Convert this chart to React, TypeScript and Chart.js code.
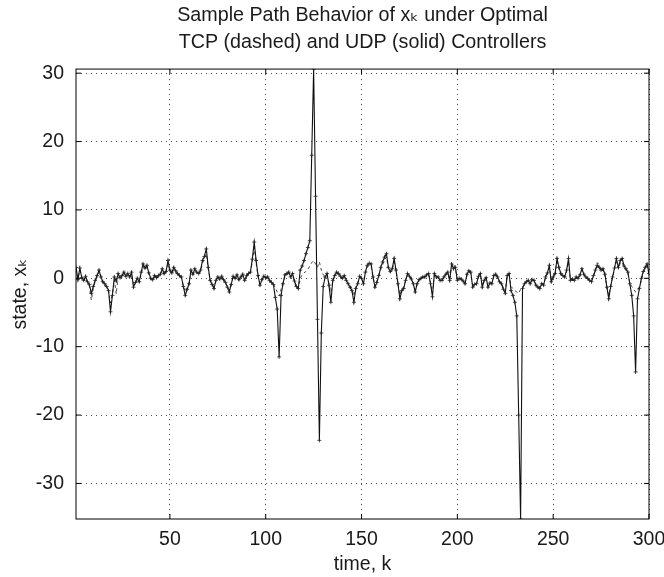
import { useEffect, useRef } from "react";
import { Chart, registerables } from "chart.js";

Chart.register(...registerables);

// UDP controller (solid line) — state x_k for k = 1..300
const udpValues = [
  1.6, -0.2, 1.5, 0.1, -0.3, 0.3, -0.5, -0.9, -2.2, -1.2,
  -0.3, 0.4, 1.2, 0.2, -0.5, -0.8, -1.2, -1.8, -4.9, -2.5,
  0.2, -0.4, 0.7, 0.1, 0.4, 0.9, 0.3, 0.7, 0.2, 0.9,
  -1.3, -0.6, 0.0, -0.5, 0.9, 2.1, 1.5, 1.9, 0.8, 0.0,
  -0.2, 0.4, 0.1, 0.4, 0.6, 1.4, 0.7, 1.0, 2.6, 1.2,
  0.8, 1.6, 1.1, 0.7, 0.4, 0.2, -1.2, -2.5, -1.6, -0.8,
  1.2, 0.6, 1.4, 0.9, 0.7, 1.2, 2.6, 3.2, 4.3, 1.6,
  -0.3, -0.9, -1.5, -0.3, 0.2, -0.1, 0.3, -0.2, -0.6, -1.3,
  -2.0, -0.9, 0.3, 0.0, 0.5, -0.2, 0.2, 0.6, -0.3, 0.4,
  0.7, 0.9, 2.8, 5.3, 2.6, 0.4, -1.0, -0.2, 0.3, 0.1,
  0.2, -0.3, -0.6, -0.9, -2.8, -4.5, -11.5, -2.5, -0.8, 0.5,
  0.7, 0.9, 0.2, 0.7, -0.4, -1.2, -1.5, 1.2, 1.8, 2.6,
  3.6, 4.5, 5.5, 18.0, 30.6, 12.0, -6.0, -23.7, -8.0, -1.2,
  0.2, 0.7, -1.0, -3.5, -0.3, 0.4, 0.9, 0.7, 0.3, 0.0,
  0.4, -0.3, -0.8, -1.3, -1.8, -3.5, -1.5, -0.8, 0.3, 0.0,
  -0.8, 0.9, 1.9, 2.2, 2.1, 0.2, -1.3, -0.6, 0.4, 1.6,
  2.4, 3.1, 3.6, 1.6, 1.0, 1.4, 2.9, 1.2, -0.8, -3.0,
  -1.8, -1.5, -0.3, 0.7, 0.3, -0.1, -0.8, -2.0, -0.8, -0.2,
  0.0, 0.2, 0.2, 0.5, 0.7, -0.8, -2.7, 0.7, 0.2, 0.2,
  -0.3, -0.3, 0.2, 0.6, 0.9, -0.3, 2.1, 1.4, 1.6, -0.3,
  0.0, -0.1, -0.4, -0.8, 0.6, 1.1, 0.9, -1.3, -0.9, -0.8,
  0.3, 0.7, -1.3, -0.3, 0.1, -1.3, -0.7, -0.8, 0.4, 0.6,
  0.2, -0.5, -0.8, -1.6, -2.2, 0.4, 0.7, -1.8, -2.5, -3.5,
  -5.5, -20.0, -35.2, -1.5, -0.8, -0.5, -0.3, -0.8, -0.2, -0.3,
  -1.0, -1.3, -1.5, -0.8, -1.0, 0.2, 0.8, 1.9, -0.5, 0.2,
  0.7, 2.9, 1.6, 0.7, 0.4, 0.2, 1.2, 2.9, -0.3, -0.1,
  -0.3, 0.2, 0.0, 0.5, 1.4, 0.6, 0.2, 0.0, -0.3, -0.5,
  0.4, 1.2, 1.9, 1.6, 1.2, 1.4, 0.6, -1.3, -3.0, -1.2,
  0.2, 1.5, 2.9, 1.6, 2.6, 2.9, 1.8, 1.4, 0.9, -0.8,
  -2.5, -5.5, -13.7, -3.0, -1.5, 0.0, 1.0, 1.6, 2.1, 0.7,
];

// TCP controller (dashed line) — state x_k for k = 1..300
const tcpValues = [
  1.4, 0.0, 1.2, 0.3, -0.4, 0.1, -0.7, -1.2, -3.2, -1.5,
  -0.5, 0.2, 1.0, 0.3, -0.7, -1.0, -1.4, -2.0, -3.6, -2.2,
  -0.2, -2.3, 0.4, 0.0, 0.3, 0.7, 0.2, 0.5, 0.1, 0.7,
  -1.0, -0.8, -0.2, -0.6, 0.6, 1.8, 1.3, 1.6, 0.6, -0.2,
  -0.4, 0.2, 0.0, 0.2, 0.5, 1.2, 0.5, 0.8, 2.2, 1.0,
  0.6, 1.3, 0.9, 0.5, 0.3, 0.0, -1.0, -2.0, -1.4, -0.7,
  1.0, 0.5, 1.2, 0.8, 0.5, 1.0, 2.2, 2.8, 3.6, 1.4,
  -0.2, -0.8, -1.3, -0.4, 0.0, -0.2, 0.1, -0.3, -0.7, -1.2,
  -1.7, -0.8, 0.2, -0.1, 0.3, -0.3, 0.1, 0.4, -0.4, 0.2,
  0.5, 0.8, 2.4, 4.5, 2.2, 0.3, -0.8, -0.3, 0.2, 0.0,
  0.1, -0.4, -0.6, -0.8, -1.4, -2.0, -2.6, -1.6, -0.6, 0.2,
  0.5, 0.7, 0.2, 0.5, -0.5, -1.5, -1.5, 0.0, 0.5, 0.8,
  1.0, 1.3, 1.8, 2.3, 2.6, 2.1, 1.6, 2.4, 1.2, 0.5,
  0.3, 0.5, -0.8, -2.0, -0.4, 0.3, 0.7, 0.5, 0.2, -0.1,
  0.3, -0.4, -0.7, -1.1, -1.5, -2.6, -1.3, -0.7, 0.2, -0.1,
  -0.7, 0.7, 1.6, 1.9, 1.8, 0.1, -1.1, -0.5, 0.3, 1.3,
  2.0, 2.7, 3.1, 1.4, 0.8, 1.2, 2.4, 1.0, -0.7, -2.5,
  -1.5, -1.3, -0.3, 0.5, 0.2, -0.2, -0.7, -1.7, -0.7, -0.2,
  -0.1, 0.1, 0.1, 0.4, 0.5, -0.7, -2.2, 0.5, 0.1, 0.1,
  -0.3, -0.3, 0.1, 0.5, 0.7, -0.3, 1.8, 2.2, 1.3, -0.2,
  -0.1, -0.2, -0.4, -0.7, 0.4, 0.9, 0.7, -1.1, -0.8, -0.7,
  0.2, 0.5, -1.1, -0.3, 0.0, -1.1, -0.6, -0.7, 0.3, 0.5,
  0.1, -0.5, -0.7, -1.4, -1.9, 0.2, 0.5, -1.2, -1.5, -1.8,
  -2.0, -2.2, -1.6, -1.2, -0.9, -0.6, -0.4, -0.7, -0.3, -0.3,
  -0.9, -1.1, -1.3, -0.7, -0.9, 0.1, 0.6, 1.6, -0.4, 0.1,
  0.5, 2.4, 1.4, 0.5, 0.3, 0.1, 1.0, 2.4, -0.3, -0.2,
  -0.3, 0.1, -0.1, 0.4, 1.2, 0.5, 0.1, -0.1, -0.3, -0.5,
  0.3, 1.0, 2.3, 2.0, 1.0, 1.2, 0.5, -1.1, -2.5, -1.0,
  0.1, 1.3, 2.4, 1.4, 2.2, 2.4, 1.5, 1.2, 0.7, -0.7,
  -1.2, -1.6, -2.0, -1.8, -1.2, -0.4, 0.8, 1.4, 1.8, 0.6,
];

const timeSteps = udpValues.map((_, i) => i + 1);
const xTickValues = [50, 100, 150, 200, 250, 300];
const yTickValues = [-30, -20, -10, 0, 10, 20, 30];
const xRange = [1, 300];
const yRange = [-35.2, 30.6];
const titleLines = [
  "Sample Path Behavior of x\u2096 under Optimal",
  "TCP (dashed) and UDP (solid) Controllers",
];
const xAxisTitle = "time, k";
const yAxisTitle = "state, x\u2096";

const FONT = "'Liberation Sans', Arial, 'DejaVu Sans', sans-serif";

const framePlugin = {
  id: "matlabFrame",
  afterDraw(chart: any) {
    const { ctx, chartArea: a, scales } = chart;
    ctx.save();
    ctx.strokeStyle = "#000";
    ctx.lineWidth = 1;
    ctx.strokeRect(a.left, a.top, a.right - a.left, a.bottom - a.top);
    const tl = 5;
    ctx.beginPath();
    for (const v of xTickValues) {
      const px = scales.x.getPixelForValue(v);
      ctx.moveTo(px, a.bottom);
      ctx.lineTo(px, a.bottom - tl);
      ctx.moveTo(px, a.top);
      ctx.lineTo(px, a.top + tl);
    }
    for (const v of yTickValues) {
      const py = scales.y.getPixelForValue(v);
      ctx.moveTo(a.left, py);
      ctx.lineTo(a.left + tl, py);
      ctx.moveTo(a.right, py);
      ctx.lineTo(a.right - tl, py);
    }
    ctx.stroke();
    ctx.restore();
  },
};

export default function App() {
  const canvasRef = useRef<HTMLCanvasElement | null>(null);

  useEffect(() => {
    if (!canvasRef.current) return;
    Chart.defaults.font.family = FONT;
    Chart.defaults.color = "#1a1a1a";
    const chart = new Chart(canvasRef.current, {
      type: "line",
      data: {
        datasets: [
          {
            label: "UDP",
            data: timeSteps.map((k, i) => ({ x: k, y: udpValues[i] })),
            borderColor: "#111",
            borderWidth: 1.1,
            pointStyle: "cross",
            pointRadius: 2,
            pointBorderWidth: 0.8,
            pointBorderColor: "#222",
            pointBackgroundColor: "#222",
            tension: 0,
            fill: false,
          },
          {
            label: "TCP",
            data: timeSteps.map((k, i) => ({ x: k, y: tcpValues[i] })),
            borderColor: "#333",
            borderWidth: 0.9,
            borderDash: [3, 3],
            pointRadius: 0,
            tension: 0,
            fill: false,
          },
        ],
      },
      options: {
        animation: false,
        responsive: false,
        events: [],
        layout: { padding: { left: 0, right: 15, top: 0, bottom: 0 } },
        plugins: {
          legend: { display: false },
          tooltip: { enabled: false },
          title: {
            display: true,
            text: titleLines,
            fullSize: false,
            color: "#1a1a1a",
            font: { size: 19.7, weight: "normal", lineHeight: 1.38, family: FONT },
            padding: { top: 1.5, bottom: 13.2 },
          },
        },
        scales: {
          x: {
            type: "linear",
            min: xRange[0],
            max: xRange[1],
            afterBuildTicks: (scale: any) => {
              scale.ticks = xTickValues.map((v) => ({ value: v }));
            },
            afterFit: (scale: any) => {
              scale.height = 58;
              scale.paddingLeft = 0;
              scale.paddingRight = 0;
            },
            grid: {
              color: "rgba(0,0,0,0.7)",
              lineWidth: 1,
              drawTicks: false,
            },
            border: { display: false, dash: [1, 4] },
            ticks: {
              padding: 9,
              maxRotation: 0,
              font: { size: 19.5, family: FONT },
              color: "#1a1a1a",
            },
            title: {
              display: true,
              text: xAxisTitle,
              font: { size: 19.5, family: FONT },
              color: "#1a1a1a",
              padding: { top: 0, bottom: 1 },
            },
          },
          y: {
            type: "linear",
            min: yRange[0],
            max: yRange[1],
            afterBuildTicks: (scale: any) => {
              scale.ticks = yTickValues.map((v) => ({ value: v }));
            },
            afterFit: (scale: any) => {
              scale.width = 76;
              scale.paddingTop = 0;
              scale.paddingBottom = 0;
            },
            grid: {
              color: "rgba(0,0,0,0.7)",
              lineWidth: 1,
              drawTicks: false,
            },
            border: { display: false, dash: [1, 4] },
            ticks: {
              padding: 12,
              font: { size: 19.5, family: FONT },
              color: "#1a1a1a",
            },
            title: {
              display: true,
              text: yAxisTitle,
              font: { size: 19.5, family: FONT },
              color: "#1a1a1a",
              padding: { top: 8.5, bottom: 0 },
            },
          },
        },
      },
      plugins: [framePlugin],
    });
    return () => chart.destroy();
  }, []);

  return (
    <div style={{ position: "fixed", left: 0, top: 0, width: 664, height: 577, background: "#fff" }}>
      <canvas ref={canvasRef} width={664} height={577} style={{ width: 664, height: 577 }} />
    </div>
  );
}
